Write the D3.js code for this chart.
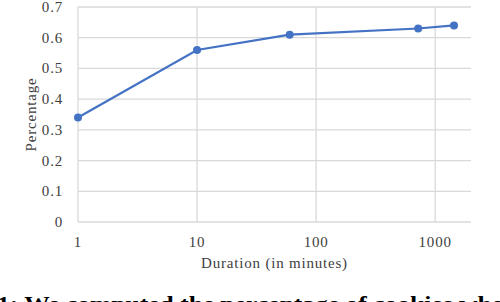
<!DOCTYPE html>
<html>
<head>
<meta charset="utf-8">
<script src="https://cdn.jsdelivr.net/npm/d3@7"></script>
<style>
  body { margin: 0; background: #fff; }
  svg text { font-family: "Liberation Serif", "Times New Roman", serif; fill: #404040; letter-spacing: 0.8px; }
</style>
</head>
<body>
<svg id="chart" width="500" height="302"></svg>
<script>
// duration in minutes vs. percentage
const durations = [1, 10, 60, 720, 1440];
const percentages = [0.34, 0.56, 0.61, 0.63, 0.64];
const xTicks = [1, 10, 100, 1000];
const yTicks = [0, 0.1, 0.2, 0.3, 0.4, 0.5, 0.6, 0.7];
const caption = '1: We computed the percentage of cookies whe';

const svg = d3.select('#chart');
const margin = { top: 7, right: 29, bottom: 80, left: 78 };
const width = 500 - margin.left - margin.right;
const height = 302 - margin.top - margin.bottom;

const x = d3.scaleLog().domain([1, 2000]).range([0, width]);
const y = d3.scaleLinear().domain([0, 0.7]).range([height, 0]);

const g = svg.append('g').attr('transform', `translate(${margin.left},${margin.top})`);

// gridlines
g.selectAll('.hgrid')
    .data(yTicks)
    .enter().append('line')
    .attr('x1', 0).attr('x2', width)
    .attr('y1', d => y(d)).attr('y2', d => y(d))
    .attr('stroke', '#d9d9d9')
    .attr('stroke-width', 1.3);

g.selectAll('.vgrid')
    .data(xTicks)
    .enter().append('line')
    .attr('x1', d => x(d)).attr('x2', d => x(d))
    .attr('y1', 0).attr('y2', height)
    .attr('stroke', '#d9d9d9')
    .attr('stroke-width', 1.3);

// tick labels
g.selectAll('.ylab')
    .data(yTicks)
    .enter().append('text')
    .attr('x', -15)
    .attr('y', d => y(d) + 5)
    .attr('text-anchor', 'end')
    .style('font-size', '15px')
    .text(d => d === 0 ? '0' : d3.format('.1f')(d));

g.selectAll('.xlab')
    .data(xTicks)
    .enter().append('text')
    .attr('x', d => x(d))
    .attr('y', height + 25)
    .attr('text-anchor', 'middle')
    .style('font-size', '15px')
    .text(d => d);

// axis titles
g.append('text')
    .attr('x', width / 2)
    .attr('y', height + 46)
    .attr('text-anchor', 'middle')
    .style('font-size', '15px')
    .text('Duration (in minutes)');

svg.append('text')
    .attr('transform', `translate(36,${margin.top + height / 2}) rotate(-90)`)
    .attr('text-anchor', 'middle')
    .style('font-size', '15px')
    .text('Percentage');

// series
const points = durations.map((d, i) => ({ d, p: percentages[i] }));
const line = d3.line().x(d => x(d.d)).y(d => y(d.p));

g.append('path')
    .datum(points)
    .attr('d', line)
    .attr('fill', 'none')
    .attr('stroke', '#4472C4')
    .attr('stroke-width', 2.2);

g.selectAll('.dot')
    .data(points)
    .enter().append('circle')
    .attr('cx', d => x(d.d))
    .attr('cy', d => y(d.p))
    .attr('r', 4)
    .attr('fill', '#4472C4');

// caption below the figure, cut off by the frame as in the source
svg.append('text')
    .attr('x', -3)
    .attr('y', 311)
    .attr('textLength', 506)
    .attr('lengthAdjust', 'spacingAndGlyphs')
    .style('font-size', '21px')
    .style('font-weight', 'bold')
    .style('letter-spacing', '0px')
    .style('fill', '#000')
    .text(caption);
</script>
</body>
</html>
